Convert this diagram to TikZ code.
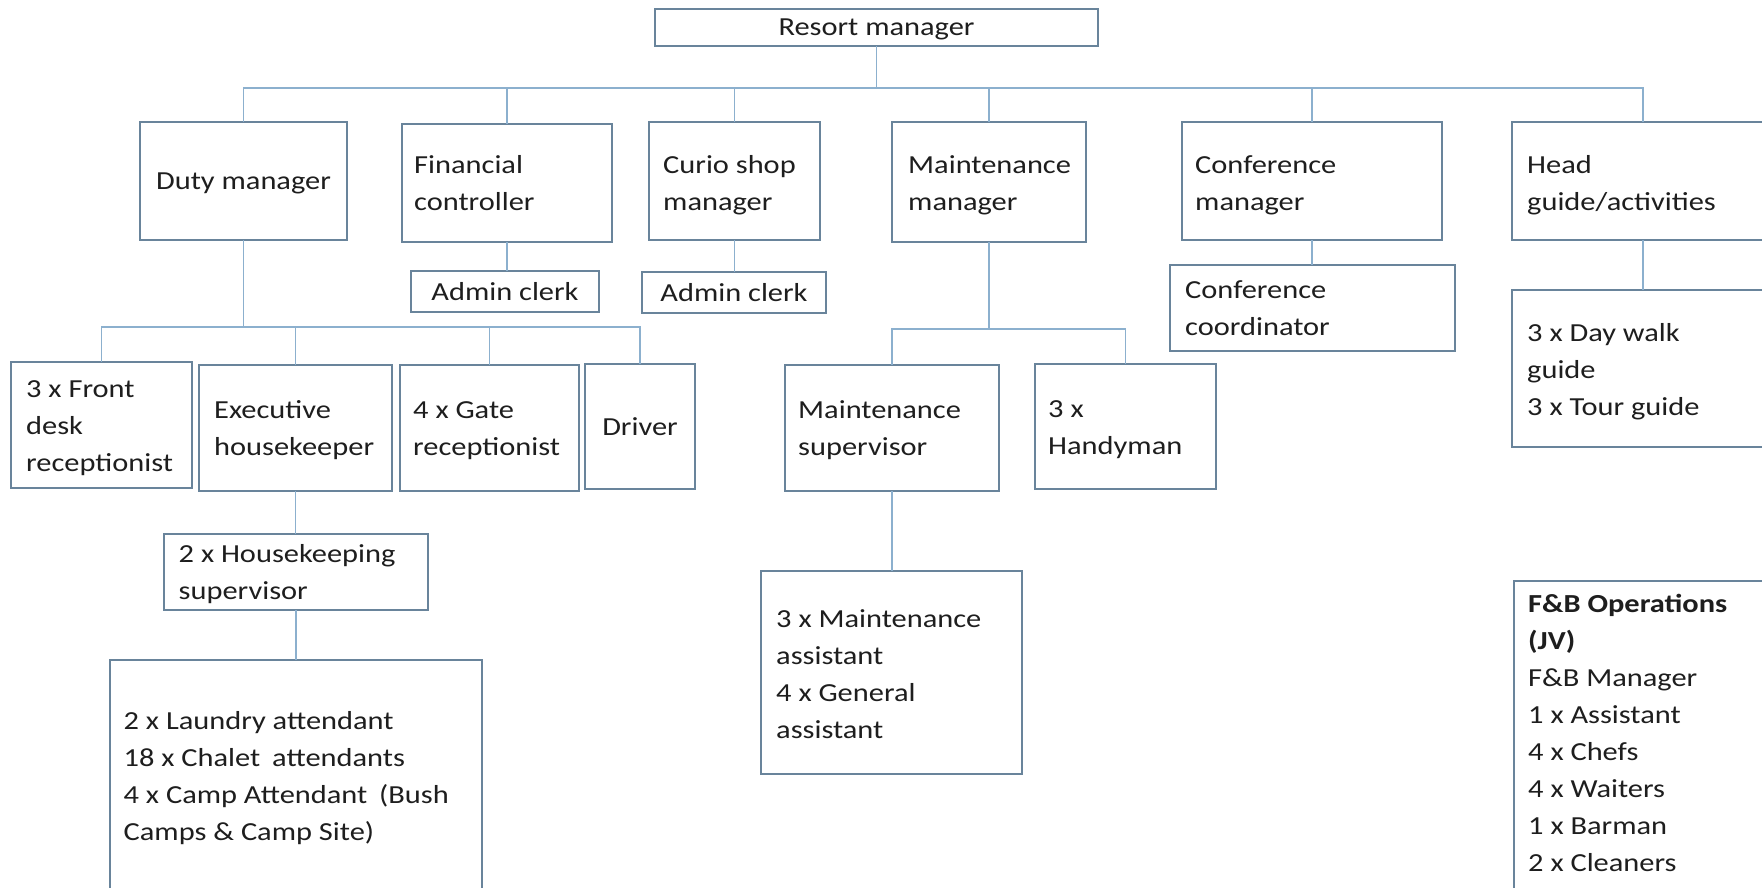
\documentclass[tikz,border=0pt]{standalone}
\usepackage{fontspec}
\setmainfont{Carlito}[FakeStretch=1.17]
\definecolor{boxc}{RGB}{105,132,155}
\definecolor{conc}{RGB}{140,176,206}
\definecolor{txt}{RGB}{30,30,30}
\newcommand\ml[1]{\vtop{\baselineskip=37pt\lineskiplimit=-1000pt\halign{##\hfil\cr#1\crcr}}}
\begin{document}
\begin{tikzpicture}[x=1pt,y=-1pt,
  font=\fontsize{26pt}{37pt}\selectfont,
  bx/.style={draw=boxc,line width=1.5pt,inner sep=0pt,text=txt},
  conn/.style={draw=conc,line width=1.5pt,line cap=rect},
  lbl/.style={anchor=base west,inner sep=0pt,text=txt}]
\useasboundingbox (0,0) rectangle (1762,887);
\clip (0,0) rectangle (1762,887);
\fill[white] (0,0) rectangle (1762,887);
% boxes
\node[bx,minimum width=443,minimum height=37,text depth=0pt] (rm) at (876.5,27.5) {Resort manager};
\node[bx,minimum width=207,minimum height=118,text depth=0pt] (dm) at (243.5,181) {Duty manager};
\node[bx,minimum width=210,minimum height=118] (fc) at (507,183) {};
\node[bx,minimum width=171,minimum height=118] (cs) at (734.5,181) {};
\node[bx,minimum width=188,minimum height=41] (ac1) at (505,291.5) {Admin clerk};
\node[bx,minimum width=184,minimum height=41] (ac2) at (734,292.5) {Admin clerk};
\node[bx,minimum width=194,minimum height=120] (mm) at (989,182) {};
\node[bx,minimum width=260,minimum height=118] (cm) at (1312,181) {};
\node[bx,minimum width=285,minimum height=86] (cc) at (1312.5,308) {};
\node[bx,minimum width=262,minimum height=118] (hg) at (1643,181) {};
\node[bx,minimum width=262,minimum height=157] (dw) at (1643,368.5) {};
\node[bx,minimum width=181,minimum height=126] (fd) at (101.5,425) {};
\node[bx,minimum width=193,minimum height=126] (eh) at (295.5,428) {};
\node[bx,minimum width=179,minimum height=126] (gr) at (489.5,428) {};
\node[bx,minimum width=110,minimum height=125] (dr) at (640,426.5) {Driver};
\node[bx,minimum width=264,minimum height=76] (hs) at (296,572) {};
\node[bx,minimum width=372,minimum height=260] (la) at (296,790) {};
\node[bx,minimum width=214,minimum height=126] (ms) at (892,428) {};
\node[bx,minimum width=181,minimum height=125] (hm) at (1125.5,426.5) {};
\node[bx,minimum width=261,minimum height=203] (ma) at (891.5,672.5) {};
\node[bx,minimum width=262,minimum height=339] (fb) at (1645,750.5) {};
% connectors
\coordinate (b1) at (0,88);
\coordinate (b2) at (0,327);
\coordinate (b3) at (0,329);
\draw[conn] (rm.south) -- (rm.south |- b1);
\draw[conn] (dm.north |- b1) -- (hg.north |- b1);
\foreach \n in {dm,fc,cs,mm,cm,hg} \draw[conn] (\n.north) -- (\n.north |- b1);
\draw[conn] (dm.south) -- (dm.south |- b2);
\draw[conn] (fd.north |- b2) -- (dr.north |- b2);
\foreach \n in {fd,eh,gr,dr} \draw[conn] (\n.north) -- (\n.north |- b2);
\draw[conn] (mm.south) -- (mm.south |- b3);
\draw[conn] (ms.north |- b3) -- (hm.north |- b3);
\foreach \n in {ms,hm} \draw[conn] (\n.north) -- (\n.north |- b3);
\draw[conn] (fc.south) -- (fc.south |- ac1.north);
\draw[conn] (cs.south) -- (cs.south |- ac2.north);
\draw[conn] (cm.south) -- (cm.south |- cc.north);
\draw[conn] (hg.south) -- (dw.north);
\draw[conn] (eh.south) -- (eh.south |- hs.north);
\draw[conn] (hs.south) -- (hs.south |- la.north);
\draw[conn] (ms.south) -- (ms.south |- ma.north);
% texts
\node[lbl] (tfc) at (414,173) {\ml{Financial\cr controller}};
\node[lbl] (tcs) at (663,173) {\ml{Curio shop\cr manager}};
\node[lbl] (tmm) at (908,173) {\ml{Maintenance\cr manager}};
\node[lbl] (tcm) at (1195,173) {\ml{Conference\cr manager}};
\node[lbl] (thg) at (1527,173) {\ml{Head\cr guide/activities}};
\node[lbl] (tcc) at (1185,298) {\ml{Conference\cr coordinator}};
\node[lbl] (tdw) at (1527,341) {\ml{3 x Day walk\cr guide\cr 3 x Tour guide}};
\node[lbl] (tfd) at (26,397.5) {\ml{3 x Front\cr desk\cr receptionist}};
\node[lbl] (teh) at (214,418) {\ml{Executive\cr housekeeper}};
\node[lbl] (tgr) at (413,418) {\ml{4 x Gate\cr receptionist}};
\node[lbl] (tms) at (798,418) {\ml{Maintenance\cr supervisor}};
\node[lbl] (thm) at (1048,417) {\ml{3 x\cr Handyman}};
\node[lbl] (ths) at (178.5,562) {\ml{2 x Housekeeping\cr supervisor}};
\node[lbl] (tla) at (123.5,729.5) {\ml{2 x Laundry attendant\cr 18 x Chalet\hspace{5pt} attendants\cr 4 x Camp Attendant\hspace{5pt} (Bush\cr Camps \& Camp Site)}};
\node[lbl] (tma) at (776,627) {\ml{3 x Maintenance\cr assistant\cr 4 x General\cr assistant}};
\node[lbl] (tfb) at (1528,612) {\ml{\textbf{F\&B Operations}\cr \textbf{(JV)}\cr F\&B Manager\cr 1 x Assistant\cr 4 x Chefs\cr 4 x Waiters\cr 1 x Barman\cr 2 x Cleaners}};
\end{tikzpicture}
\end{document}
